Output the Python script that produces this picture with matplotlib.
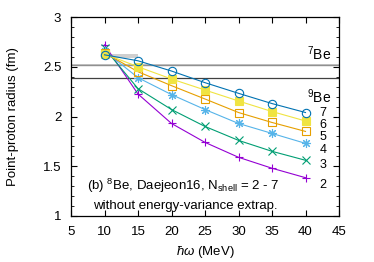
import matplotlib
matplotlib.use("Agg")
import matplotlib.pyplot as plt
from matplotlib.ticker import MultipleLocator

plt.rcParams['font.family'] = ['Liberation Sans', 'DejaVu Sans']
plt.rcParams['mathtext.fontset'] = 'custom'
plt.rcParams['mathtext.rm'] = 'Liberation Sans'
plt.rcParams['mathtext.it'] = 'Liberation Sans:italic'
plt.rcParams['mathtext.bf'] = 'Liberation Sans:bold'

hw = [10, 15, 20, 25, 30, 35, 40]
nshell = [2, 3, 4, 5, 6, 7]
r_n2 = [2.72, 2.226, 1.93, 1.74, 1.59, 1.48, 1.385]
r_n3 = [2.685, 2.28, 2.07, 1.90, 1.76, 1.65, 1.56]
r_n4 = [2.66, 2.39, 2.22, 2.07, 1.93, 1.83, 1.73]
r_n5 = [2.64, 2.45, 2.31, 2.176, 2.04, 1.94, 1.85]
r_n6 = [2.63, 2.50, 2.377, 2.266, 2.156, 2.05, 1.955]
r_n7 = [2.62, 2.56, 2.457, 2.34, 2.233, 2.13, 2.04]
series = [r_n2, r_n3, r_n4, r_n5, r_n6, r_n7]
label_y = [1.31, 1.51, 1.66, 1.79, 1.91, 2.04]

r_7be = 2.518
r_9be = 2.39

colors = ['#9400d3', '#009e73', '#56b4e9', '#e69f00', '#f0e442', '#0072b2']
markers = ['+', 'x', (8, 2, 0), 's', 's', 'o']
mfc = ['none', 'none', 'none', 'none', '#f0e442', 'none']
msize = [6, 6, 6.5, 5.5, 5.5, 6]

FS = 9.5

fig = plt.figure(figsize=(3.74, 2.62), dpi=100)
ax = fig.add_axes([71/374, 46/262, 268/374, 199/262])

ax.axhspan(r_7be - 0.01, r_7be + 0.01, color='#c8c8c8', lw=0)
ax.axhline(r_7be, color='#909090', lw=1.0)
ax.axhline(r_9be, color='#404040', lw=0.9)
ax.fill_between([10, 15], 2.585, 2.625, color='#a0a0a0', alpha=0.5, lw=0)

for i, ys in enumerate(series):
    ax.plot(hw, ys, color=colors[i], marker=markers[i], mfc=mfc[i],
            mec=colors[i], ms=msize[i], lw=0.8, mew=0.8)
    ax.text(42.6, label_y[i], str(nshell[i]), ha='center', va='center', fontsize=9)

ax.text(43.8, 2.63, r'$^{7}$Be', ha='right', va='center', fontsize=FS + 0.5)
ax.text(43.8, 2.2, r'$^{9}$Be', ha='right', va='center', fontsize=FS + 0.5)

ax.text(21.7, 1.30, r'(b) $^{8}$Be, Daejeon16, N$_{\rm shell}$ = 2 - 7',
        ha='center', va='center', fontsize=FS)
ax.text(22.0, 1.10, 'without energy-variance extrap.', ha='center', va='center', fontsize=FS)

ax.set_xlim(5, 45)
ax.set_ylim(1, 3)
ax.xaxis.set_major_locator(MultipleLocator(5))
ax.yaxis.set_major_locator(MultipleLocator(0.5))
ax.yaxis.set_minor_locator(MultipleLocator(0.1))
ax.tick_params(which='both', direction='in', top=True, right=True, labelsize=FS)
ax.tick_params(which='major', length=4, width=0.8)
ax.tick_params(axis='x', which='major', pad=7)
ax.tick_params(axis='y', which='major', pad=7)
ax.tick_params(which='minor', length=2, width=0.6)
ax.set_yticks([1, 1.5, 2, 2.5, 3])
ax.set_yticklabels(['1', '1.5', '2', '2.5', '3'])
for s in ax.spines.values():
    s.set_linewidth(0.9)

ax.set_xlabel(r'$\hbar\omega$ (MeV)', fontsize=FS, va='center')
ax.set_ylabel('Point-proton radius (fm)', fontsize=FS, va='center')
ax.xaxis.set_label_coords(0.5, -0.18)
ax.yaxis.set_label_coords(-0.215, 0.5)

fig.savefig('out.png', dpi=100)
